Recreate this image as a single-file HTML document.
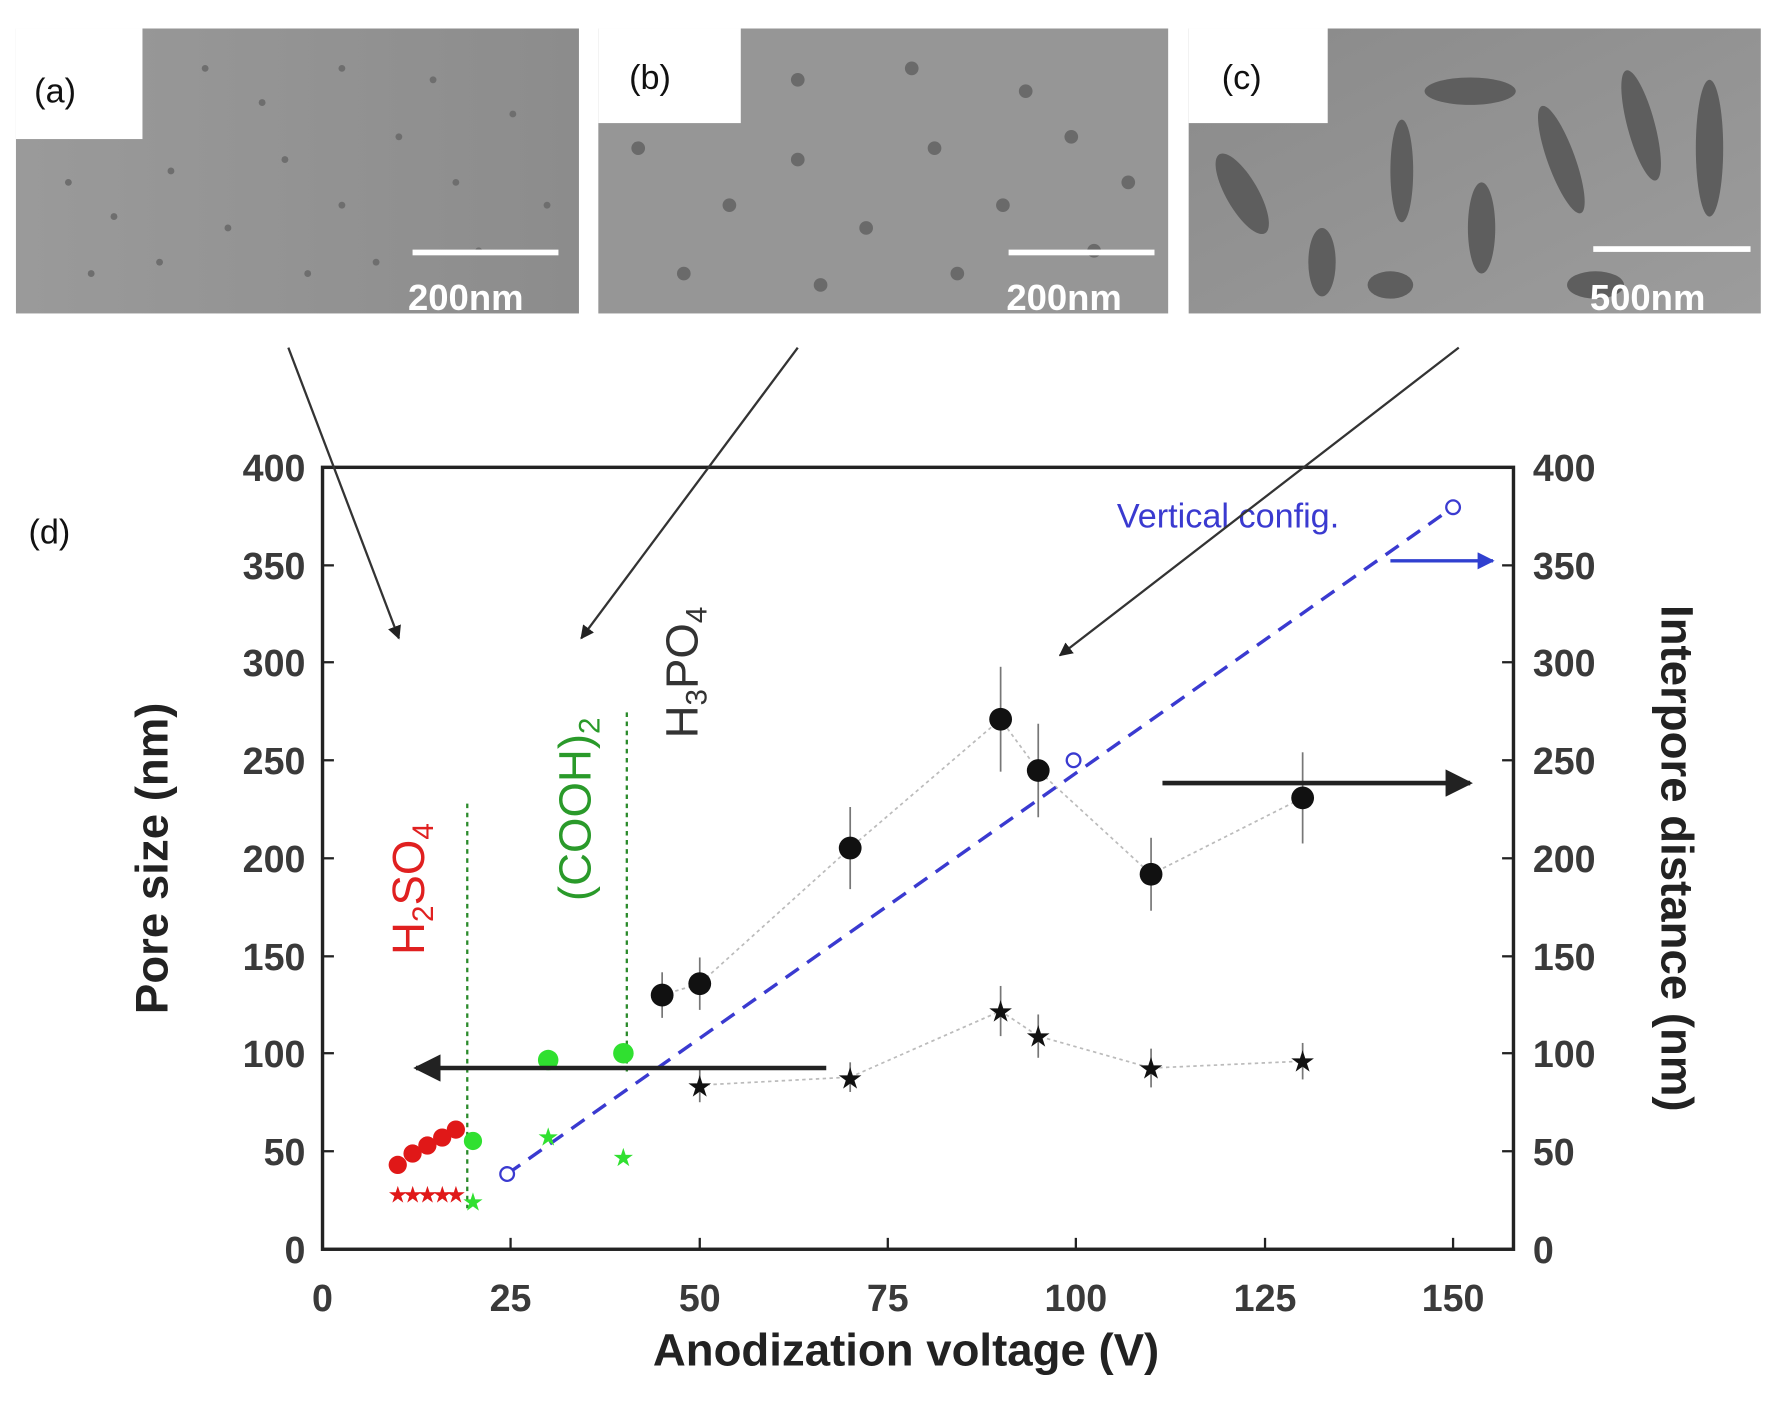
<!DOCTYPE html><html><head><style>html,body{margin:0;padding:0;background:#fff}svg{display:block}</style></head><body>
<svg width="1787" height="1402" viewBox="0 0 1568 1230" preserveAspectRatio="none" xmlns="http://www.w3.org/2000/svg" font-family="Liberation Sans, sans-serif">
<defs>
<linearGradient id="ga" x1="0" y1="0" x2="1" y2="0"><stop offset="0" stop-color="#9a9a9a"/><stop offset="1" stop-color="#8c8c8c"/></linearGradient>
<linearGradient id="gc" x1="0" y1="0" x2="1" y2="1"><stop offset="0" stop-color="#8a8a8a"/><stop offset="1" stop-color="#9c9c9c"/></linearGradient>
<marker id="ah" viewBox="0 0 10 10" refX="9" refY="5" markerWidth="6" markerHeight="6" orient="auto"><path d="M0,0L10,5L0,10z" fill="#222"/></marker>
<marker id="ab" viewBox="0 0 10 10" refX="9" refY="5" markerWidth="5" markerHeight="5" orient="auto"><path d="M0,0L10,5L0,10z" fill="#3040d0"/></marker>
</defs>
<rect x="14" y="25" width="494" height="250" fill="url(#ga)"/>
<g fill="#6e6e6e">
<circle cx="60" cy="160" r="3"/><circle cx="100" cy="190" r="3"/><circle cx="150" cy="150" r="3"/><circle cx="200" cy="200" r="3"/><circle cx="250" cy="140" r="3"/><circle cx="300" cy="180" r="3"/><circle cx="350" cy="120" r="3"/><circle cx="400" cy="160" r="3"/><circle cx="450" cy="100" r="3"/><circle cx="480" cy="180" r="3"/><circle cx="180" cy="60" r="3"/><circle cx="230" cy="90" r="3"/><circle cx="300" cy="60" r="3"/><circle cx="380" cy="70" r="3"/><circle cx="420" cy="220" r="3"/><circle cx="80" cy="240" r="3"/><circle cx="140" cy="230" r="3"/><circle cx="270" cy="240" r="3"/><circle cx="330" cy="230" r="3"/>
</g>
<rect x="14" y="25" width="111" height="97" fill="#fff"/>
<rect x="362" y="219" width="128" height="5" fill="#fff"/>
<text x="358" y="272" font-size="32" font-weight="bold" fill="#fff">200nm</text>
<text x="30" y="90" font-size="30" fill="#111">(a)</text>

<rect x="525" y="25" width="500" height="250" fill="#969696"/>
<g fill="#6a6a6a">
<circle cx="560" cy="130" r="6"/><circle cx="640" cy="180" r="6"/><circle cx="700" cy="140" r="6"/><circle cx="760" cy="200" r="6"/><circle cx="820" cy="130" r="6"/><circle cx="880" cy="180" r="6"/><circle cx="940" cy="120" r="6"/><circle cx="990" cy="160" r="6"/><circle cx="600" cy="240" r="6"/><circle cx="720" cy="250" r="6"/><circle cx="840" cy="240" r="6"/><circle cx="700" cy="70" r="6"/><circle cx="800" cy="60" r="6"/><circle cx="900" cy="80" r="6"/><circle cx="960" cy="220" r="6"/>
</g>
<rect x="525" y="25" width="125" height="83" fill="#fff"/>
<rect x="885" y="219" width="128" height="5" fill="#fff"/>
<text x="883" y="272" font-size="32" font-weight="bold" fill="#fff">200nm</text>
<text x="552" y="78" font-size="30" fill="#111">(b)</text>

<rect x="1043" y="25" width="502" height="250" fill="url(#gc)"/>
<g fill="#5e5e5e">
<ellipse cx="1090" cy="170" rx="14" ry="40" transform="rotate(-30 1090 170)"/><ellipse cx="1160" cy="230" rx="12" ry="30"/><ellipse cx="1230" cy="150" rx="10" ry="45"/><ellipse cx="1290" cy="80" rx="40" ry="12"/><ellipse cx="1300" cy="200" rx="12" ry="40"/><ellipse cx="1370" cy="140" rx="12" ry="50" transform="rotate(-20 1370 140)"/><ellipse cx="1440" cy="110" rx="12" ry="50" transform="rotate(-15 1440 110)"/><ellipse cx="1500" cy="130" rx="12" ry="60"/><ellipse cx="1220" cy="250" rx="20" ry="12"/><ellipse cx="1400" cy="250" rx="25" ry="12"/>
</g>
<rect x="1043" y="25" width="122" height="83" fill="#fff"/>
<rect x="1398" y="216" width="138" height="5" fill="#fff"/>
<text x="1395" y="272" font-size="32" font-weight="bold" fill="#fff">500nm</text>
<text x="1072" y="78" font-size="30" fill="#111">(c)</text>

<text x="25" y="477" font-size="30" fill="#111">(d)</text>

<rect x="283" y="410" width="1045" height="686" fill="none" stroke="#222" stroke-width="3"/>
<g stroke="#222" stroke-width="2">
<line x1="283" y1="1010" x2="293" y2="1010"/><line x1="283" y1="924" x2="293" y2="924"/><line x1="283" y1="839" x2="293" y2="839"/><line x1="283" y1="753" x2="293" y2="753"/><line x1="283" y1="667" x2="293" y2="667"/><line x1="283" y1="581" x2="293" y2="581"/><line x1="283" y1="496" x2="293" y2="496"/>
<line x1="1318" y1="1010" x2="1328" y2="1010"/><line x1="1318" y1="924" x2="1328" y2="924"/><line x1="1318" y1="839" x2="1328" y2="839"/><line x1="1318" y1="753" x2="1328" y2="753"/><line x1="1318" y1="667" x2="1328" y2="667"/><line x1="1318" y1="581" x2="1328" y2="581"/><line x1="1318" y1="496" x2="1328" y2="496"/>
<line x1="448" y1="1096" x2="448" y2="1086"/><line x1="614" y1="1096" x2="614" y2="1086"/><line x1="779" y1="1096" x2="779" y2="1086"/><line x1="944" y1="1096" x2="944" y2="1086"/><line x1="1110" y1="1096" x2="1110" y2="1086"/><line x1="1275" y1="1096" x2="1275" y2="1086"/>
</g>
<g font-size="33" font-weight="bold" fill="#3a3a3a" text-anchor="end">
<text x="268" y="1108">0</text><text x="268" y="1022">50</text><text x="268" y="936">100</text><text x="268" y="851">150</text><text x="268" y="765">200</text><text x="268" y="679">250</text><text x="268" y="593">300</text><text x="268" y="508">350</text><text x="268" y="422">400</text>
</g>
<g font-size="33" font-weight="bold" fill="#3a3a3a">
<text x="1345" y="1108">0</text><text x="1345" y="1022">50</text><text x="1345" y="936">100</text><text x="1345" y="851">150</text><text x="1345" y="765">200</text><text x="1345" y="679">250</text><text x="1345" y="593">300</text><text x="1345" y="508">350</text><text x="1345" y="422">400</text>
</g>
<g font-size="33" font-weight="bold" fill="#3a3a3a" text-anchor="middle">
<text x="283" y="1150">0</text><text x="448" y="1150">25</text><text x="614" y="1150">50</text><text x="779" y="1150">75</text><text x="944" y="1150">100</text><text x="1110" y="1150">125</text><text x="1275" y="1150">150</text>
</g>
<text x="795" y="1198" font-size="40" font-weight="bold" fill="#222" text-anchor="middle">Anodization voltage (V)</text>
<text transform="translate(147 753) rotate(-90)" font-size="40" font-weight="bold" fill="#222" text-anchor="middle">Pore size (nm)</text>
<text transform="translate(1458 753) rotate(90)" font-size="40" font-weight="bold" fill="#222" text-anchor="middle">Interpore distance (nm)</text>

<line x1="410" y1="705" x2="410" y2="1060" stroke="#2a8a2a" stroke-width="2" stroke-dasharray="4,4"/>
<line x1="550" y1="625" x2="550" y2="940" stroke="#2a8a2a" stroke-width="2" stroke-dasharray="4,4"/>
<text transform="translate(372 780) rotate(-90)" font-size="40" fill="#e02020" text-anchor="middle">H<tspan font-size="26" dy="8">2</tspan><tspan dy="-8">SO</tspan><tspan font-size="26" dy="8">4</tspan></text>
<text transform="translate(518 710) rotate(-90)" font-size="40" fill="#2a9a2a" text-anchor="middle">(COOH)<tspan font-size="26" dy="8">2</tspan></text>
<text transform="translate(612 590) rotate(-90)" font-size="40" fill="#333" text-anchor="middle">H<tspan font-size="26" dy="8">3</tspan><tspan dy="-8">PO</tspan><tspan font-size="26" dy="8">4</tspan></text>

<polyline points="581,873 614,863 746,744 878,631 911,676 1010,767 1143,700" fill="none" stroke="#bbb" stroke-width="1.5" stroke-dasharray="3,3"/>
<polyline points="614,952 746,945 878,887 911,909 1010,937 1143,931" fill="none" stroke="#bbb" stroke-width="1.5" stroke-dasharray="3,3"/>

<g stroke="#777" stroke-width="1.5">
<line x1="581" y1="853" x2="581" y2="893"/><line x1="614" y1="840" x2="614" y2="886"/><line x1="746" y1="708" x2="746" y2="780"/><line x1="878" y1="585" x2="878" y2="677"/><line x1="911" y1="635" x2="911" y2="717"/><line x1="1010" y1="735" x2="1010" y2="799"/><line x1="1143" y1="660" x2="1143" y2="740"/>
<line x1="614" y1="937" x2="614" y2="967"/><line x1="746" y1="932" x2="746" y2="958"/><line x1="878" y1="865" x2="878" y2="909"/><line x1="911" y1="890" x2="911" y2="928"/><line x1="1010" y1="920" x2="1010" y2="954"/><line x1="1143" y1="915" x2="1143" y2="947"/>
</g>
<line x1="445" y1="1030" x2="1275" y2="445" stroke="#3a3ad0" stroke-width="3" stroke-dasharray="14,9"/>
<g fill="#fff" stroke="#3a3ad0" stroke-width="2"><circle cx="445" cy="1030" r="6"/><circle cx="942" cy="667" r="6"/><circle cx="1275" cy="445" r="6"/></g>
<text x="980" y="463" font-size="30" fill="#3a3ad0">Vertical config.</text>
<line x1="1220" y1="492" x2="1310" y2="492" stroke="#3040d0" stroke-width="3" marker-end="url(#ab)"/>

<g fill="#111"><circle cx="581" cy="873" r="10"/><circle cx="614" cy="863" r="10"/><circle cx="746" cy="744" r="10"/><circle cx="878" cy="631" r="10"/><circle cx="911" cy="676" r="10"/><circle cx="1010" cy="767" r="10"/><circle cx="1143" cy="700" r="10"/></g>
<g fill="#111" font-size="26" text-anchor="middle"><text x="614" y="962">★</text><text x="746" y="955">★</text><text x="878" y="896">★</text><text x="911" y="918">★</text><text x="1010" y="946">★</text><text x="1143" y="940">★</text></g>
<g fill="#e01818"><circle cx="349" cy="1022" r="8"/><circle cx="362" cy="1012" r="8"/><circle cx="375" cy="1005" r="8"/><circle cx="388" cy="998" r="8"/><circle cx="400" cy="991" r="8"/></g>
<g fill="#e01818" font-size="20" text-anchor="middle"><text x="349" y="1055">★</text><text x="362" y="1055">★</text><text x="375" y="1055">★</text><text x="388" y="1055">★</text><text x="400" y="1055">★</text></g>
<g fill="#30e030"><circle cx="415" cy="1001" r="8"/><circle cx="481" cy="930" r="9"/><circle cx="547" cy="924" r="9"/></g>
<g fill="#30e030" font-size="22" text-anchor="middle"><text x="415" y="1062">★</text><text x="481" y="1005">★</text><text x="547" y="1023">★</text></g>

<line x1="725" y1="937" x2="365" y2="937" stroke="#222" stroke-width="4" marker-end="url(#ah)"/>
<line x1="1020" y1="687" x2="1290" y2="687" stroke="#222" stroke-width="4" marker-end="url(#ah)"/>
<line x1="253" y1="305" x2="350" y2="560" stroke="#333" stroke-width="2" marker-end="url(#ah)"/>
<line x1="700" y1="305" x2="510" y2="560" stroke="#333" stroke-width="2" marker-end="url(#ah)"/>
<line x1="1280" y1="305" x2="930" y2="575" stroke="#333" stroke-width="2" marker-end="url(#ah)"/>
</svg>
</body></html>
